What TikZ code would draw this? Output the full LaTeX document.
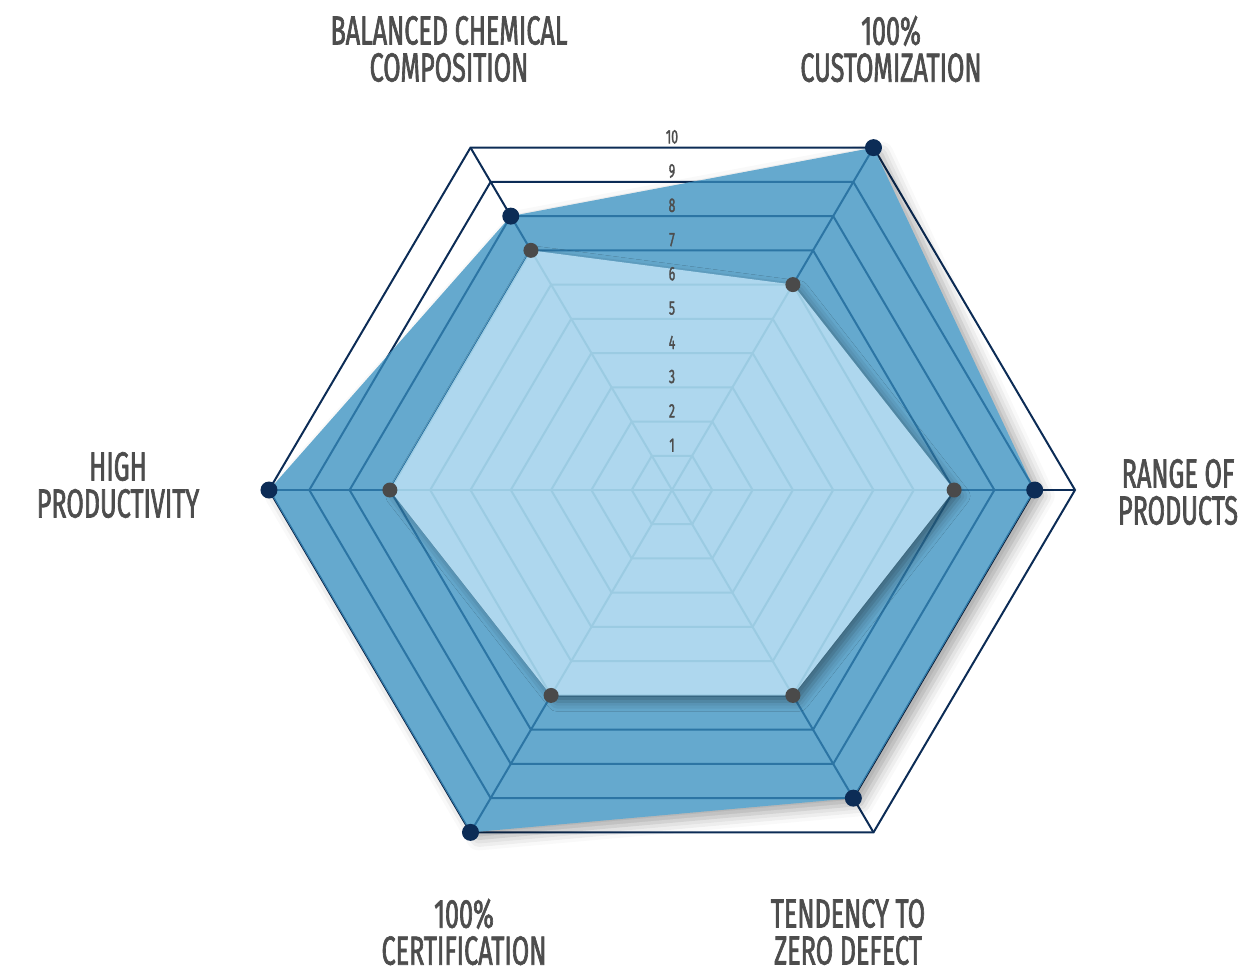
\documentclass[tikz,border=0pt]{standalone}
\usepackage{fontspec}
\usepackage{tikz}
\usetikzlibrary{shadows.blur}
\newfontfamily\lblfont[FakeStretch=0.62, FakeBold=1.6]{Fira Sans}
\definecolor{darknavy}{RGB}{12,44,86}
\definecolor{midline}{RGB}{44,117,164}
\definecolor{midfill}{RGB}{101,169,206}
\definecolor{lightfill}{RGB}{174,215,238}
\definecolor{lightline}{RGB}{155,203,226}
\definecolor{dotgray}{RGB}{74,74,74}
\definecolor{txtgray}{RGB}{77,77,77}
\newcommand{\lv}{40.3}
\newcommand{\hexgrid}[1]{%
  \foreach \k in {1,...,10}
    \draw[#1] (0:{\k*\lv}) -- (60:{\k*\lv}) -- (120:{\k*\lv}) -- (180:{\k*\lv})
      -- (240:{\k*\lv}) -- (300:{\k*\lv}) -- cycle;
  \foreach \a in {0,60,...,300}
    \draw[#1] (0,0) -- (\a:{10*\lv});
}
\tikzset{
 lbl/.style={font=\lblfont\fontsize{20.3}{18.5}\selectfont, text=txtgray, align=center, inner sep=0pt},
 lvl/.style={font=\lblfont\fontsize{9.8}{10}\selectfont, text=txtgray, inner sep=0pt, anchor=south, yshift=1.8pt},
 navygrid/.style={draw=darknavy, line width=1pt},
 midgrid/.style={draw=midline, line width=1pt},
 lightgrid/.style={draw=lightline, line width=1pt},
 dotA/.style={circle, fill=darknavy, minimum size=8.5pt, inner sep=0pt},
 dotB/.style={circle, fill=dotgray, minimum size=7.5pt, inner sep=0pt},
}

\begin{document}
\begin{tikzpicture}[x=0.5pt, y=0.5pt]
  \useasboundingbox (-672,-486) rectangle (573,490);
  \begin{scope}[yscale=0.981]
    \foreach \v[count=\i from 0] in {9, 10, 8, 10, 10, 9}
      \coordinate (a\i) at ({\i*60}:{\v*\lv});
    \foreach \v[count=\i from 0] in {7, 6, 7, 7, 6, 6}
      \coordinate (b\i) at ({\i*60}:{\v*\lv});
    \hexgrid{navygrid}
    \fill[midfill, blur shadow={shadow xshift=4pt, shadow yshift=-3pt, shadow blur radius=6pt, shadow opacity=35}]
      (a0) -- (a1) -- (a2) -- (a3) -- (a4) -- (a5) -- cycle;
    \begin{scope}
      \clip (a0) -- (a1) -- (a2) -- (a3) -- (a4) -- (a5) -- cycle;
      \hexgrid{midgrid}
    \end{scope}
    \fill[lightfill, blur shadow={shadow xshift=3pt, shadow yshift=-3pt, shadow blur radius=5pt, shadow opacity=40}]
      (b0) -- (b1) -- (b2) -- (b3) -- (b4) -- (b5) -- cycle;
    \begin{scope}
      \clip (b0) -- (b1) -- (b2) -- (b3) -- (b4) -- (b5) -- cycle;
      \hexgrid{lightgrid}
    \end{scope}
    \foreach \i in {0,...,5} {
      \node[dotA] (da\i) at (a\i) {};
      \node[dotB] (db\i) at (b\i) {};
    }
    \foreach \k in {1,...,10}
      \node[lvl] (n\k) at (0,{\k*\lv*0.866}) {\k};
  \end{scope}
  \node[lbl] (balanced) at (-223,441) {BALANCED CHEMICAL\\COMPOSITION};
  \node[lbl] (custom) at (219,441) {100\%\\CUSTOMIZATION};
  \node[lbl] (range) at (506,-2) {RANGE OF\\PRODUCTS};
  \node[lbl] (high) at (-554,5) {HIGH\\PRODUCTIVITY};
  \node[lbl] (cert) at (-208,-442) {100\%\\CERTIFICATION};
  \node[lbl] (defect) at (176,-442) {TENDENCY TO\\ZERO DEFECT};
\end{tikzpicture}
\end{document}
